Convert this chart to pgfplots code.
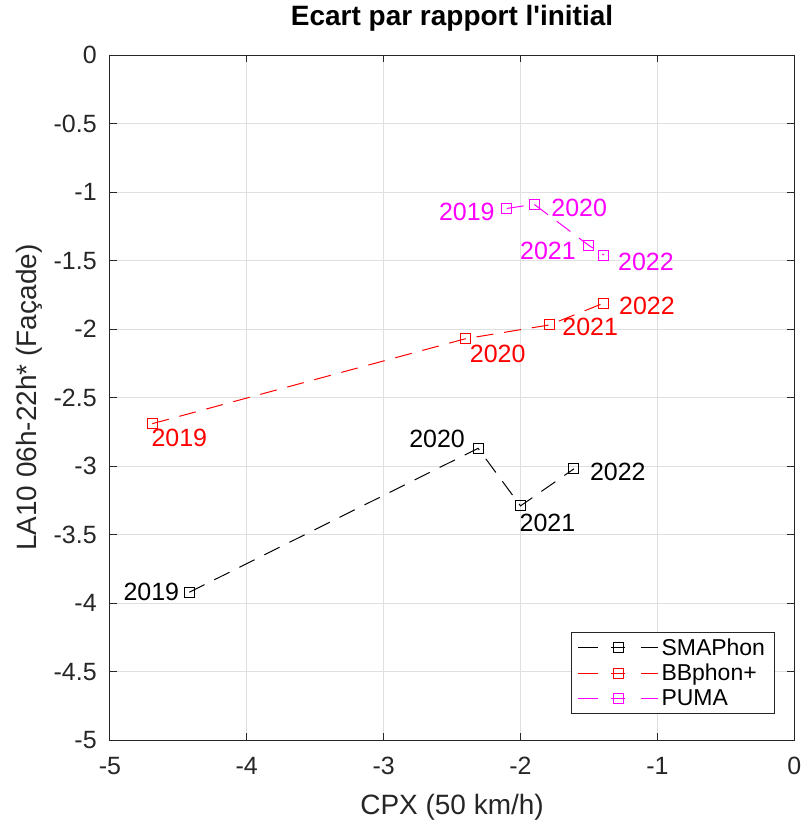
\documentclass[border=0pt]{standalone}
\usepackage{pgfplots}
\pgfplotsset{compat=1.18}
\usepackage{fontspec}
\setmainfont{Liberation Sans}[Ligatures=TeXOff]
\definecolor{axgray}{rgb}{0.15,0.15,0.15}
\definecolor{mred}{rgb}{1,0,0}
\definecolor{mmag}{rgb}{1,0,1}
\begin{document}
\begin{tikzpicture}
\begin{axis}[
  name=ax,
  scale only axis,
  width=685pt, height=686pt,
  xmin=-5, xmax=0, ymin=-5, ymax=0,
  xtick={-5,-4,-3,-2,-1,0},
  xticklabels={-5,-4,-3,-2,-1,0},
  ytick={-5,-4.5,-4,-3.5,-3,-2.5,-2,-1.5,-1,-0.5,0},
  yticklabels={-5,-4.5,-4,-3.5,-3,-2.5,-2,-1.5,-1,-0.5,0},
  tick label style={font=\fontsize{25}{30}\selectfont, color=axgray},
  xticklabel style={anchor=base, inner sep=0pt, yshift=-34pt},
  yticklabel style={anchor=east, inner sep=0pt, xshift=-13pt},
  tick align=inside,
  major tick length=7pt,
  tick style={axgray, line width=0.8pt},
  axis line style={axgray, line width=0.8pt},
  grid=major,
  grid style={gray!25, line width=0.8pt},
  title={\bfseries Ecart par rapport l'initial},
  title style={font=\fontsize{28}{32}\selectfont, at={(axis description cs:0.5,1)}, anchor=base, yshift=23pt, inner sep=0pt},
  xlabel={CPX (50 km/h)},
  ylabel={LA10 06h-22h* (Façade)},
  label style={font=\fontsize{28}{32}\selectfont, color=axgray},
  xlabel style={at={(axis description cs:0.5,0)}, anchor=base, yshift=-74pt, inner sep=0pt},
  ylabel style={at={(axis description cs:-0.117,0.5)}, anchor=center, rotate=0, inner sep=0pt},
  legend style={at={(rel axis cs:0.971,0.039)}, anchor=south east,
    font=\fontsize{23}{27}\selectfont, draw=axgray, line width=0.8pt,
    row sep=3.5pt, inner xsep=6pt, inner ysep=4pt,
    nodes={inner xsep=3pt}},
  legend cell align=left,
  legend image code/.code={
    \draw[#1, solid] (0pt,0pt) -- (20pt,0pt);
    \draw[#1, solid] (33pt,0pt) -- (47pt,0pt);
    \draw[#1, solid] (63pt,0pt) -- (80pt,0pt);
    \draw[#1] plot coordinates {(40pt,0pt)};
  },
  clip=false,
]
\addplot[black, line width=1pt, dash pattern=on 17pt off 11pt, mark=square, mark size=5pt, mark options={solid}]
  coordinates {(-4.42,-3.92) (-2.31,-2.87) (-2.00,-3.29) (-1.61,-3.02)};
\addlegendentry{SMAPhon}
\addplot[mred, line width=1pt, dash pattern=on 17pt off 11pt, mark=square, mark size=5pt, mark options={solid}]
  coordinates {(-4.69,-2.69) (-2.40,-2.07) (-1.79,-1.97) (-1.39,-1.81)};
\addlegendentry{BBphon+}
\addplot[mmag, line width=1pt, dash pattern=on 17pt off 11pt, mark=square, mark size=5pt, mark options={solid}]
  coordinates {(-2.10,-1.12) (-1.90,-1.09) (-1.50,-1.39) (-1.39,-1.46)};
\addlegendentry{PUMA}
% year labels
\begin{scope}[every node/.style={font=\fontsize{25}{30}\selectfont, inner sep=0pt}]
\node[anchor=east, black] at (axis cs:-4.42,-3.92) [xshift=-10pt] {2019};
\node[anchor=east, black] at (axis cs:-2.31,-2.87) [xshift=-13pt, yshift=9pt] {2020};
\node[anchor=west, black] at (axis cs:-2.00,-3.29) [xshift=-1pt, yshift=-17pt] {2021};
\node[anchor=west, black] at (axis cs:-1.61,-3.02) [xshift=16pt, yshift=-3pt] {2022};
\node[anchor=west, mred] at (axis cs:-4.69,-2.69) [xshift=-1pt, yshift=-14pt] {2019};
\node[anchor=west, mred] at (axis cs:-2.40,-2.07) [xshift=4pt, yshift=-15pt] {2020};
\node[anchor=west, mred] at (axis cs:-1.79,-1.97) [xshift=13pt, yshift=-2pt] {2021};
\node[anchor=west, mred] at (axis cs:-1.39,-1.81) [xshift=15pt, yshift=-3pt] {2022};
\node[anchor=east, mmag] at (axis cs:-2.10,-1.12) [xshift=-12pt, yshift=-3pt] {2019};
\node[anchor=west, mmag] at (axis cs:-1.90,-1.09) [xshift=17pt, yshift=-4pt] {2020};
\node[anchor=east, mmag] at (axis cs:-1.50,-1.39) [xshift=-13pt, yshift=-5pt] {2021};
\node[anchor=west, mmag] at (axis cs:-1.39,-1.46) [xshift=14pt, yshift=-7pt] {2022};
\end{scope}
\end{axis}
\path (ax.south west) ++(-110pt,-79pt) coordinate (bbA);
\path (ax.north east) ++(11pt,55pt) coordinate (bbB);
\useasboundingbox (bbA) rectangle (bbB);
\end{tikzpicture}
\end{document}
